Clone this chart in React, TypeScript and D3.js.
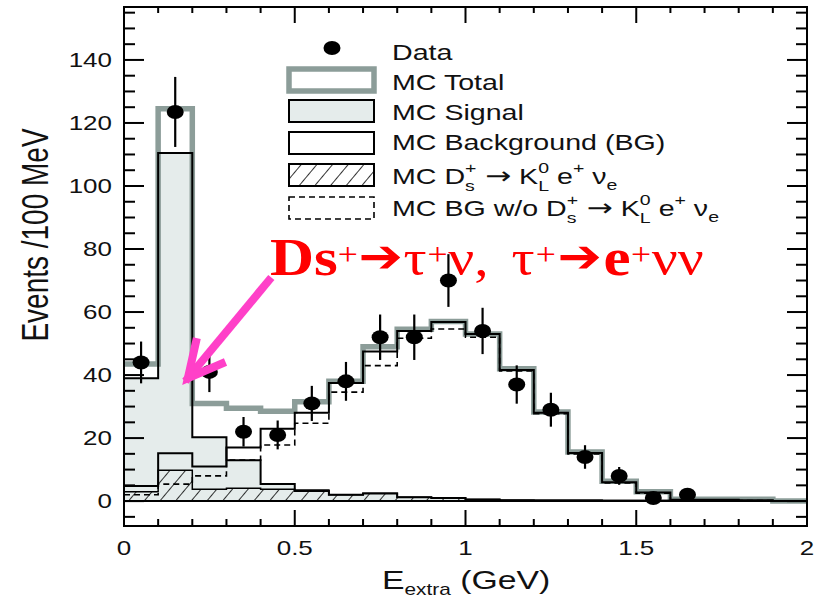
import React from 'react';
import * as d3 from 'd3';

const binEdges = [0, 0.1, 0.2, 0.3, 0.4, 0.5, 0.6, 0.7, 0.8, 0.9, 1.0, 1.1, 1.2, 1.3, 1.4, 1.5, 1.6, 1.7, 1.8, 1.9, 2.0];
const mcTotal = [43.5, 124.5, 31, 29.5, 28.5, 31.5, 38, 49, 54.5, 57, 53, 42, 28.3, 15.6, 6.3, 3, 0.6, 0.6, 0.6, 0];
const mcSignal = [39, 110.5, 20.3, 13, 5.4, 3.2, 2, 2.4, 1.2, 1, 0.5, 0.3, 0.2, 0.2, 0.1, 0.1, 0.1, 0.1, 0, 0];
const mcBackground = [4.8, 15.2, 11, 17, 23, 28, 37.5, 47.5, 54, 56.8, 53, 41.6, 28, 15.3, 6, 2.7, 0.4, 0.4, 0.3, 0];
const mcBgNoKl = [2, 5.4, 8, 13, 17.8, 24.7, 34.6, 43, 51.7, 54.6, 52, 41.3, 27.7, 15, 5.8, 2.5, 0.3, 0.3, 0.2, 0];
const mcKl = [3, 9.8, 3.8, 4.1, 3.8, 3.5, 2, 2.5, 1.2, 1, 0.5, 0.3, 0.3, 0.3, 0.2, 0.2, 0.1, 0.1, 0.1, 0];

const dataX = [0.05, 0.15, 0.25, 0.35, 0.45, 0.55, 0.65, 0.75, 0.85, 0.95, 1.05, 1.15, 1.25, 1.35, 1.45, 1.55, 1.65];
const dataY = [44, 123.5, 41, 22, 21, 31, 38, 52, 52, 70, 54, 37, 29, 14, 8, 1, 2];

const xMajorTicks = [0, 0.5, 1, 1.5, 2];
const xTickLabels = ['0', '0.5', '1', '1.5', '2'];
const xMinorTicks = [0.1, 0.2, 0.3, 0.4, 0.6, 0.7, 0.8, 0.9, 1.1, 1.2, 1.3, 1.4, 1.6, 1.7, 1.8, 1.9];
const yMajorTicks = [0, 20, 40, 60, 80, 100, 120, 140];
const yMinorTicks = [-5, 5, 10, 15, 25, 30, 35, 45, 50, 55, 65, 70, 75, 85, 90, 95, 105, 110, 115, 125, 130, 135, 145, 150, 155];

const SANS = 'Liberation Sans, Arial, Helvetica, sans-serif';
const SERIF = 'Liberation Serif, Times New Roman, serif';
const SX = 1.3;
const GRAY = '#8c9d99';
const FILL = '#e5eceb';
const MAGENTA = '#ff40c8';

function DecayLabel({ prefix, px, py }: { prefix: string; px: number; py: number }) {
  return (
    <text transform={`translate(${px},${py}) scale(${SX},1)`} fontFamily={SANS} fontSize={22} fill="#111">
      {prefix}D<tspan fontSize={15} dy={-11}>+</tspan><tspan fontSize={15} dx={-8.8} dy={18}>s</tspan>
      <tspan dx={8} dy={-7} fontFamily="DejaVu Sans" fontSize={24}>→</tspan>
      <tspan dx={6}>K</tspan><tspan fontSize={15} dy={-11}>0</tspan><tspan fontSize={15} dx={-8.3} dy={18}>L</tspan>
      <tspan dy={-7}> e</tspan><tspan fontSize={15} dy={-11}>+</tspan><tspan dy={11}> ν</tspan>
      <tspan fontSize={15} dy={6}>e</tspan>
    </text>
  );
}

export default function App() {
  const x = d3.scaleLinear().domain([0, 2]).range([124, 807]);
  const y = d3.scaleLinear().domain([-7.9, 156.8]).range([526, 7]);
  const L = x(0), R = x(2), T = y(156.8), B = y(-7.9);

  const pts = (vals: number[]) =>
    vals.map((v, i) => [binEdges[i], v] as [number, number]).concat([[binEdges[vals.length], vals[vals.length - 1]]]);
  const line = d3.line<[number, number]>().x(d => x(d[0])).y(d => y(d[1])).curve(d3.curveStepAfter);
  const area = d3.area<[number, number]>().x(d => x(d[0])).y0(y(0)).y1(d => y(d[1])).curve(d3.curveStepAfter);

  // annotation arrow (data coords)
  const tipX = x(0.187), tipY = y(39);
  const tailX = x(0.424), tailY = y(70);
  const ang = Math.atan2(tailY - tipY, tailX - tipX);
  const bl = 37, spread = (27 * Math.PI) / 180;
  const b1 = [tipX + bl * Math.cos(ang - spread), tipY + bl * Math.sin(ang - spread)];
  const b2 = [tipX + bl * Math.cos(ang + spread), tipY + bl * Math.sin(ang + spread)];

  const legX0 = 289, legX1 = 374, legTextX = 392;
  const tr = (px: number, py: number) => `translate(${px},${py}) scale(${SX},1)`;

  return (
    <svg width={820} height={603} style={{ position: 'absolute', left: 0, top: 0, background: '#fff' }}
      xmlns="http://www.w3.org/2000/svg">
      <defs>
        <pattern id="hatch" patternUnits="userSpaceOnUse" width={12} height={12} patternTransform="rotate(40)">
          <line x1={0} y1={0} x2={0} y2={12} stroke="#000" strokeWidth={1.6} />
        </pattern>
        <clipPath id="plot">
          <rect x={L} y={T} width={R - L} height={B - T} />
        </clipPath>
      </defs>
      <rect x={0} y={0} width={820} height={603} fill="#fff" />

      <g clipPath="url(#plot)">
        <path d={area(pts(mcSignal)) || ''} fill={FILL} stroke="none" />
        <path d={line(pts(mcTotal)) || ''} fill="none" stroke={GRAY} strokeWidth={5.5} />
        <path d={area(pts(mcSignal)) || ''} fill="none" stroke="#000" strokeWidth={2} />
        <path d={area(pts(mcKl)) || ''} fill="url(#hatch)" stroke="#000" strokeWidth={1.5} />
        <path d={line(pts(mcBgNoKl)) || ''} fill="none" stroke="#000" strokeWidth={1.6} strokeDasharray="6,4" />
        <path d={line(pts(mcBackground)) || ''} fill="none" stroke="#000" strokeWidth={2} />
        <line x1={L} x2={R} y1={y(0)} y2={y(0)} stroke="#000" strokeWidth={2} />
        {dataX.map((dx, i) => {
          const e = Math.sqrt(dataY[i]);
          return (
            <g key={i}>
              <line x1={x(dx)} x2={x(dx)} y1={y(dataY[i] - e)} y2={y(dataY[i] + e)} stroke="#000" strokeWidth={2.2} />
              <ellipse cx={x(dx)} cy={y(dataY[i])} rx={8.5} ry={7} fill="#000" />
            </g>
          );
        })}
      </g>

      {/* frame */}
      <rect x={L} y={T} width={R - L} height={B - T} fill="none" stroke="#000" strokeWidth={2} />
      {yMajorTicks.map(v => (
        <g key={'ym' + v}>
          <line x1={L} x2={L + 20} y1={y(v)} y2={y(v)} stroke="#000" strokeWidth={2} />
          <line x1={R} x2={R - 20} y1={y(v)} y2={y(v)} stroke="#000" strokeWidth={2} />
        </g>
      ))}
      {yMinorTicks.map(v => (
        <g key={'yn' + v}>
          <line x1={L} x2={L + 11} y1={y(v)} y2={y(v)} stroke="#000" strokeWidth={2} />
          <line x1={R} x2={R - 11} y1={y(v)} y2={y(v)} stroke="#000" strokeWidth={2} />
        </g>
      ))}
      {xMajorTicks.map(v => (
        <g key={'xm' + v}>
          <line x1={x(v)} x2={x(v)} y1={B} y2={B - 16} stroke="#000" strokeWidth={2} />
          <line x1={x(v)} x2={x(v)} y1={T} y2={T + 16} stroke="#000" strokeWidth={2} />
        </g>
      ))}
      {xMinorTicks.map(v => (
        <g key={'xn' + v}>
          <line x1={x(v)} x2={x(v)} y1={B} y2={B - 7} stroke="#000" strokeWidth={2} />
          <line x1={x(v)} x2={x(v)} y1={T} y2={T + 6} stroke="#000" strokeWidth={2} />
        </g>
      ))}

      {/* tick labels */}
      {yMajorTicks.map(v => (
        <text key={'yl' + v} transform={tr(112, y(v) + 7)} textAnchor="end" fontFamily={SANS} fontSize={20} fill="#111">
          {String(v)}
        </text>
      ))}
      {xMajorTicks.map((v, i) => (
        <text key={'xl' + v} transform={tr(x(v), 555)} textAnchor="middle" fontFamily={SANS} fontSize={20} fill="#111">
          {xTickLabels[i]}
        </text>
      ))}

      {/* axis titles */}
      <text transform={`translate(48,235) scale(${SX},1) rotate(-90)`} textAnchor="middle" fontFamily={SANS} fontSize={28} fill="#111">
        Events /100 MeV
      </text>
      <text transform={tr(382, 589)} fontFamily={SANS} fontSize={26} fill="#111">
        E<tspan fontSize={16} dy={6}>extra</tspan><tspan dy={-6}> (GeV)</tspan>
      </text>

      {/* legend */}
      <ellipse cx={332} cy={48} rx={8.5} ry={7} fill="#000" />
      <text transform={tr(legTextX, 60)} fontFamily={SANS} fontSize={22} fill="#111">Data</text>

      <rect x={legX0} y={69} width={legX1 - legX0} height={22} fill="#fff" stroke={GRAY} strokeWidth={5.5} />
      <text transform={tr(legTextX, 90)} fontFamily={SANS} fontSize={22} fill="#111">MC Total</text>

      <rect x={legX0} y={100} width={legX1 - legX0} height={22} fill={FILL} stroke="#000" strokeWidth={2} />
      <text transform={tr(legTextX, 120)} fontFamily={SANS} fontSize={22} fill="#111">MC Signal</text>

      <rect x={legX0} y={132} width={legX1 - legX0} height={22} fill="#fff" stroke="#000" strokeWidth={2} />
      <text transform={tr(legTextX, 150)} fontFamily={SANS} fontSize={22} fill="#111">MC Background (BG)</text>

      <rect x={legX0} y={164} width={legX1 - legX0} height={22} fill="url(#hatch)" stroke="#000" strokeWidth={2} />
      <DecayLabel prefix="MC " px={legTextX} py={184} />

      <rect x={legX0} y={197} width={legX1 - legX0} height={22} fill="#fff" stroke="#000" strokeWidth={1.6} strokeDasharray="6,4" />
      <DecayLabel prefix="MC BG w/o " px={legTextX} py={216} />

      {/* red annotation */}
      <text transform="translate(270,275) scale(1.15,1)" fill="#ff0000" fontFamily={SERIF} fontWeight="bold" fontSize={53}>
        <tspan x={0} y={0}>Ds</tspan>
        <tspan x={59} y={-10} fontSize={31} fontWeight="normal">+</tspan>
        <tspan x={77} y={-3} fontSize={46} fontFamily="DejaVu Sans">➔</tspan>
        <tspan x={116} y={0} fontSize={50} fontWeight="normal">τ</tspan>
        <tspan x={137} y={-10} fontSize={31} fontWeight="normal">+</tspan>
        <tspan x={155} y={0} fontSize={50} fontWeight="normal">ν,</tspan>
        <tspan x={210} y={0} fontSize={50} fontWeight="normal">τ</tspan>
        <tspan x={231} y={-10} fontSize={31} fontWeight="normal">+</tspan>
        <tspan x={250} y={-3} fontSize={46} fontFamily="DejaVu Sans">➔</tspan>
        <tspan x={290} y={0}>e</tspan>
        <tspan x={314} y={-10} fontSize={31} fontWeight="normal">+</tspan>
        <tspan x={332} y={0} fontSize={50} fontWeight="normal">νν</tspan>
      </text>

      {/* magenta arrow */}
      <g stroke={MAGENTA} strokeWidth={8} strokeLinecap="square" fill="none">
        <line x1={tailX} y1={tailY} x2={tipX} y2={tipY} />
        <polyline points={`${b1[0]},${b1[1]} ${tipX},${tipY} ${b2[0]},${b2[1]}`} strokeLinejoin="miter" />
      </g>
    </svg>
  );
}
